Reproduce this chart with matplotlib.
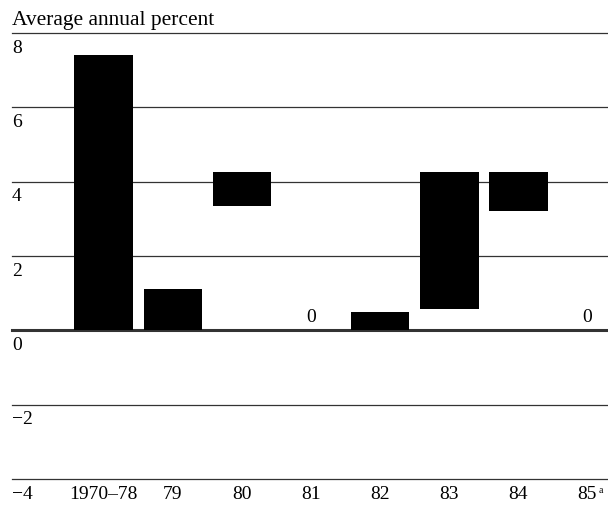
import matplotlib.pyplot as plt
from matplotlib import transforms

plt.rcParams['font.family'] = ['Liberation Serif', 'DejaVu Serif']

categories = ["1970–78", "79", "80", "81", "82", "83", "84", "85"]
bar_bottom = [0, 0, 3.35, 0, 0, 0.57, 3.2, 0]
bar_top = [7.4, 1.1, 4.27, 0, 0.5, 4.27, 4.27, 0]
zero_labels = ["81", "85"]
y_ticks = [8, 6, 4, 2, 0, -2, -4]

fig = plt.figure(figsize=(6.08, 5.10), dpi=100)
ax = fig.add_axes([0.0197, 0.0588, 0.9803, 0.8745])

x = list(range(len(categories)))
heights = [t - b for t, b in zip(bar_top, bar_bottom)]
ax.bar(x, heights, bottom=bar_bottom, width=0.85, color='black', zorder=3)

# zero-value notes
for i, c in enumerate(categories):
    if c in zero_labels:
        ax.text(i, 0.15, "0", ha='center', va='bottom', fontsize=14)

ax.set_xlim(-1.33, 7.30)
ax.set_ylim(-4, 8)

# gridlines
for v in y_ticks:
    ax.axhline(v, color='#333333', lw=2.2 if v == 0 else 0.9, zorder=2, clip_on=False)

# y labels below each gridline, at left
trans = transforms.blended_transform_factory(ax.transAxes, ax.transData)
off = transforms.offset_copy(trans, fig=fig, y=-4, units='points')
for v in y_ticks:
    lbl = str(v).replace('-', '−')
    ax.text(0.0, v, lbl, transform=off, ha='left', va='top', fontsize=14)

# x labels
xtr = transforms.offset_copy(ax.transData, fig=fig, y=-4, units='points')
for i, c in enumerate(categories):
    ax.text(i, -4, c, transform=xtr, ha='center', va='top', fontsize=14)
ax.text(7.17, -4, "a", transform=xtr, ha='left', va='top', fontsize=7)

ax.axis('off')
fig.text(0.0197, 0.978, "Average annual percent", ha='left', va='top', fontsize=15.5)

fig.savefig("out.png", dpi=100)
